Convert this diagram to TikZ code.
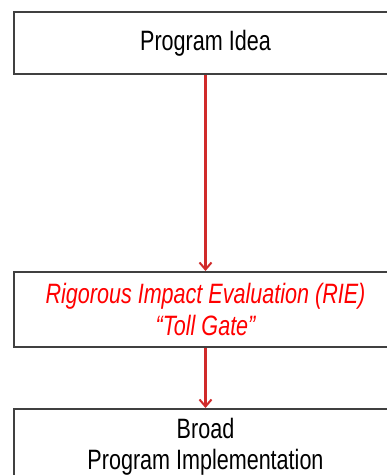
\documentclass[tikz,border=0pt]{standalone}
\usepackage{fontspec}
\setmainfont[FakeStretch=0.77]{Liberation Sans}
\usetikzlibrary{arrows.meta}
\definecolor{boxline}{HTML}{404040}
\definecolor{flowred}{HTML}{D02A2A}
\definecolor{gatered}{HTML}{FF0000}
\tikzset{
  stagebox/.style={draw=boxline, line width=2pt, fill=white, minimum width=383pt,
    align=center, inner sep=0pt, font=\fontsize{28}{31}\selectfont},
  flow/.style={draw=flowred, line width=2.2pt,
    -{Straight Barb[length=7pt,width=12pt,line width=2pt]}}
}
\begin{document}
\begin{tikzpicture}[x=1pt,y=1pt]
  \useasboundingbox (0,0) rectangle (387,-475);
  \node[stagebox, minimum height=62pt] (idea) at (205.5,-43) {Program Idea};
  \node[stagebox, minimum height=75pt, text=gatered, font=\fontsize{28}{32}\selectfont\itshape]
    (rie) at (205.5,-309.5) {Rigorous Impact Evaluation (RIE)\\``Toll Gate''};
  \node[stagebox, minimum height=75pt] (impl) at (205.5,-446.5) {Broad\\Program Implementation};
  \draw[flow] (idea.south) -- (rie.north);
  \draw[flow] (rie.south) -- (impl.north);
\end{tikzpicture}
\end{document}
